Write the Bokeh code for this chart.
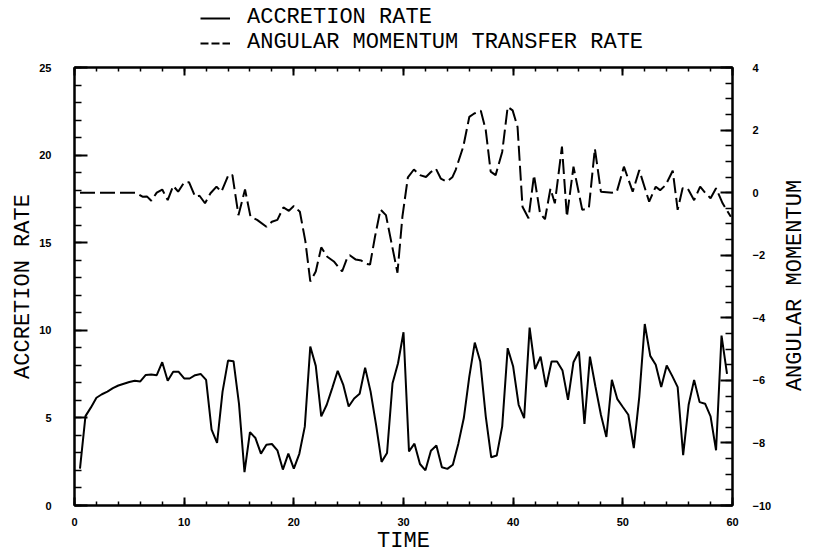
import math
from bokeh.plotting import figure
from bokeh.layouts import column, row
from bokeh.models import (Range1d, LinearAxis, SingleIntervalTicker, Legend, LegendItem,
                          CustomJSTickFormatter, Label)
from bokeh.embed import file_html
from bokeh.resources import INLINE

# ---- data ----
acc_time = [0.5, 1.0, 1.5, 2.0, 2.5, 3.0, 3.5, 4.0, 4.5, 5.0, 5.5, 6.0, 6.5, 7.0, 7.5, 8.0,
            8.5, 9.0, 9.5, 10.0, 10.5, 11.0, 11.5, 12.0, 12.5, 13.0, 13.5, 14.0, 14.5, 15.0,
            15.5, 16.0, 16.5, 17.0, 17.5, 18.0, 18.5, 19.0, 19.5, 20.0, 20.5, 21.0, 21.5, 22.0,
            22.5, 23.0, 23.5, 24.0, 24.5, 25.0, 25.5, 26.0, 26.5, 27.0, 27.5, 28.0, 28.5, 29.0,
            29.5, 30.0, 30.5, 31.0, 31.5, 32.0, 32.5, 33.0, 33.5, 34.0, 34.5, 35.0, 35.5, 36.0,
            36.5, 37.0, 37.5, 38.0, 38.5, 39.0, 39.5, 40.0, 40.5, 41.0, 41.5, 42.0, 42.5, 43.0,
            43.5, 44.0, 44.5, 45.0, 45.5, 46.0, 46.5, 47.0, 47.5, 48.0, 48.5, 49.0, 49.5, 50.0,
            50.5, 51.0, 51.5, 52.0, 52.5, 53.0, 53.5, 54.0, 54.5, 55.0, 55.5, 56.0, 56.5, 57.0,
            57.5, 58.0, 58.5, 59.0, 59.5]
acc_rate = [2.1, 5.1, 5.6, 6.15, 6.35, 6.5, 6.7, 6.85, 6.95, 7.05, 7.12, 7.08, 7.45, 7.48, 7.44, 8.18,
            7.12, 7.63, 7.63, 7.25, 7.25, 7.44, 7.51, 7.17, 4.33, 3.57, 6.5, 8.27, 8.24, 5.8,
            1.9, 4.19, 3.85, 2.96, 3.47, 3.51, 3.15, 2.05, 2.96, 2.1, 2.95, 4.5, 9.07, 7.97,
            5.09, 5.75, 6.7, 7.69, 6.9, 5.65, 6.11, 6.38, 7.87, 6.5, 4.6, 2.49, 3.0, 6.98,
            8.12, 9.89, 3.09, 3.53, 2.37, 2.01, 3.13, 3.42, 2.18, 2.09, 2.33, 3.53, 4.99, 7.36,
            9.3, 8.22, 5.09, 2.75, 2.85, 4.52, 8.98, 7.93, 5.75, 4.99, 10.15, 7.78, 8.5, 6.76,
            8.22, 8.22, 7.7, 6.03, 8.18, 8.79, 4.65, 8.5, 6.79, 5.18, 3.91, 7.17, 6.07, 5.62,
            5.18, 3.28, 6.2, 10.36, 8.54, 8.03, 6.76, 7.99, 7.4, 6.76, 2.87, 5.75, 7.17, 5.9,
            5.81, 5.09, 3.15, 9.7, 7.51]

am_time = [0.5, 5.6, 6.2, 6.6, 7.0, 7.5, 8.0, 8.5, 9.0, 9.45, 10.0, 10.45, 11.0, 11.4, 11.9,
           12.4, 12.95, 13.4, 14.05, 14.4, 14.95, 15.55, 16.05, 16.65, 17.5, 18.0, 18.5, 19.05,
           19.55, 20.0, 20.55, 21.05, 21.5, 22.0, 22.5, 23.05, 23.65, 24.4, 24.9, 25.1, 25.65,
           26.15, 26.55, 26.95, 27.4, 27.9, 28.4, 28.85, 29.45, 29.9, 30.4, 30.95, 31.5, 32.05,
           32.5, 32.95, 33.4, 33.95, 34.45, 34.75, 35.45, 36.0, 36.45, 37.05, 37.5, 37.95, 38.4,
           39.0, 39.5, 39.95, 40.4, 40.85, 41.4, 41.9, 42.45, 42.9, 43.4, 43.8, 44.45, 44.9,
           45.5, 46.3, 46.9, 47.45, 48.0, 49.05, 49.45, 50.1, 50.9, 51.5, 52.4, 53.0, 53.4,
           53.9, 54.55, 55.0, 55.45, 55.9, 56.5, 57.05, 57.5, 58.0, 58.5, 59.1, 59.85]
am_rate = [0.0, 0.0, -0.13, -0.12, -0.26, 0.0, 0.1, -0.24, 0.22, 0.03, 0.33, 0.33, -0.13, -0.1, -0.34,
           -0.02, 0.19, 0.03, 0.58, 0.56, -0.72, 0.1, -0.77, -0.87, -1.09, -0.93, -0.87, -0.47,
           -0.58, -0.43, -0.61, -1.55, -2.84, -2.52, -1.75, -2.05, -2.2, -2.52, -2.05, -2.0, -2.14,
           -2.17, -2.27, -2.3, -1.41, -0.54, -0.72, -1.51, -2.56, -0.77, 0.49, 0.74, 0.56, 0.5,
           0.66, 0.77, 0.45, 0.35, 0.49, 0.72, 1.47, 2.42, 2.53, 2.62, 2.0, 0.67, 0.56,
           1.3, 2.74, 2.63, 2.1, -0.45, -0.82, 0.56, -0.66, -0.85, 0.13, -0.34, 1.47, -0.77,
           0.83, -0.55, -0.5, 1.41, 0.03, 0.0, 0.03, 0.83, 0.03, 0.72, -0.29, 0.19, 0.08,
           0.24, 0.7, -0.55, 0.14, 0.14, -0.24, 0.19, 0.0, -0.18, 0.14, -0.34, -0.77]

legend_labels = ["ACCRETION RATE", "ANGULAR MOMENTUM TRANSFER RATE"]
x_title = "TIME"
left_title = "ACCRETION RATE"
right_title = "ANGULAR MOMENTUM"

TITLE_FONT = "Liberation Mono"
TICK_FONT = "Liberation Sans"
DASH = "15 5"
LEGEND_DASH = "8 3"

# ---- legend strip on top (its sample lines use the series, kept out of view) ----
lf = figure(width=814, height=55, x_range=Range1d(100, 101), y_range=Range1d(100, 101),
            output_backend="svg", toolbar_location=None,
            x_axis_location=None, y_axis_location=None, min_border=0)
lf.grid.visible = False
lf.outline_line_color = None
r_solid = lf.line(acc_time, acc_rate, line_color="black", line_width=2)
r_dash = lf.line(am_time, am_rate, line_color="black", line_width=2, line_dash=LEGEND_DASH)
lg = Legend(items=[LegendItem(label=legend_labels[0], renderers=[r_solid]),
                   LegendItem(label=legend_labels[1], renderers=[r_dash])],
            location=(200, 0), orientation="vertical",
            glyph_width=30, glyph_height=20, label_height=20,
            label_standoff=17, padding=0, margin=0, spacing=-2,
            border_line_color=None, background_fill_alpha=0,
            label_text_font=TITLE_FONT, label_text_font_size="22px", label_text_color="black")
lf.add_layout(lg, "center")

# ---- main plot ----
p = figure(width=780, height=501, x_range=Range1d(0, 60), y_range=Range1d(0, 25),
           output_backend="svg", toolbar_location=None,
           x_axis_location=None, y_axis_location=None,
           min_border_left=74, min_border_right=48, min_border_top=12, min_border_bottom=51)
p.extra_y_ranges = {"am": Range1d(-10, 4)}
p.grid.visible = False
p.outline_line_color = "black"
p.outline_line_width = 2
p.background_fill_color = "white"
p.border_fill_color = "white"


def style_axis(ax, tick_in, minor_in, standoff):
    ax.axis_line_width = 2
    ax.axis_line_color = "black"
    ax.major_tick_in = tick_in
    ax.major_tick_out = 0
    ax.minor_tick_in = minor_in
    ax.minor_tick_out = 0
    ax.major_tick_line_width = 2
    ax.minor_tick_line_width = 1.5
    ax.major_label_standoff = standoff
    ax.major_label_text_font = TICK_FONT
    ax.major_label_text_font_style = "bold"
    ax.major_label_text_font_size = "11px"
    ax.major_label_text_color = "black"
    ax.axis_label_text_font = TITLE_FONT
    ax.axis_label_text_font_size = "22px"
    ax.axis_label_text_font_style = "normal"
    ax.axis_label_text_color = "black"


left = LinearAxis(ticker=SingleIntervalTicker(interval=5, num_minor_ticks=5), axis_label=left_title)
style_axis(left, 13, 7, 23)
left.axis_label_standoff = 0
p.add_layout(left, "left")

right = LinearAxis(y_range_name="am", ticker=SingleIntervalTicker(interval=2, num_minor_ticks=4))
style_axis(right, 12, 7, 20)
p.add_layout(right, "right")

bottom = LinearAxis(ticker=SingleIntervalTicker(interval=10, num_minor_ticks=5), axis_label=x_title)
style_axis(bottom, 8, 4, 12)
bottom.axis_label_standoff = 0
p.add_layout(bottom, "below")

top = LinearAxis(ticker=SingleIntervalTicker(interval=10, num_minor_ticks=5),
                 formatter=CustomJSTickFormatter(code="return ''"))
style_axis(top, 8, 4, 0)
p.add_layout(top, "above")

p.line(acc_time, acc_rate, line_color="black", line_width=2)
p.line(am_time, am_rate, y_range_name="am", line_color="black", line_width=2, line_dash=DASH)

# ---- right-hand title strip ----
rt = figure(width=34, height=501, x_range=Range1d(0, 1), y_range=Range1d(0, 1),
            output_backend="svg", toolbar_location=None,
            x_axis_location=None, y_axis_location=None, min_border=0)
rt.grid.visible = False
rt.outline_line_color = None
rt.add_layout(Label(x=15, y=220, x_units="screen", y_units="screen", text=right_title,
                    angle=math.pi / 2, text_align="center", text_baseline="middle",
                    text_font=TITLE_FONT, text_font_size="22px", text_color="black"))

layout = column(lf, row(p, rt, spacing=0), spacing=0)
open("out.html", "w").write(file_html(layout, INLINE))
